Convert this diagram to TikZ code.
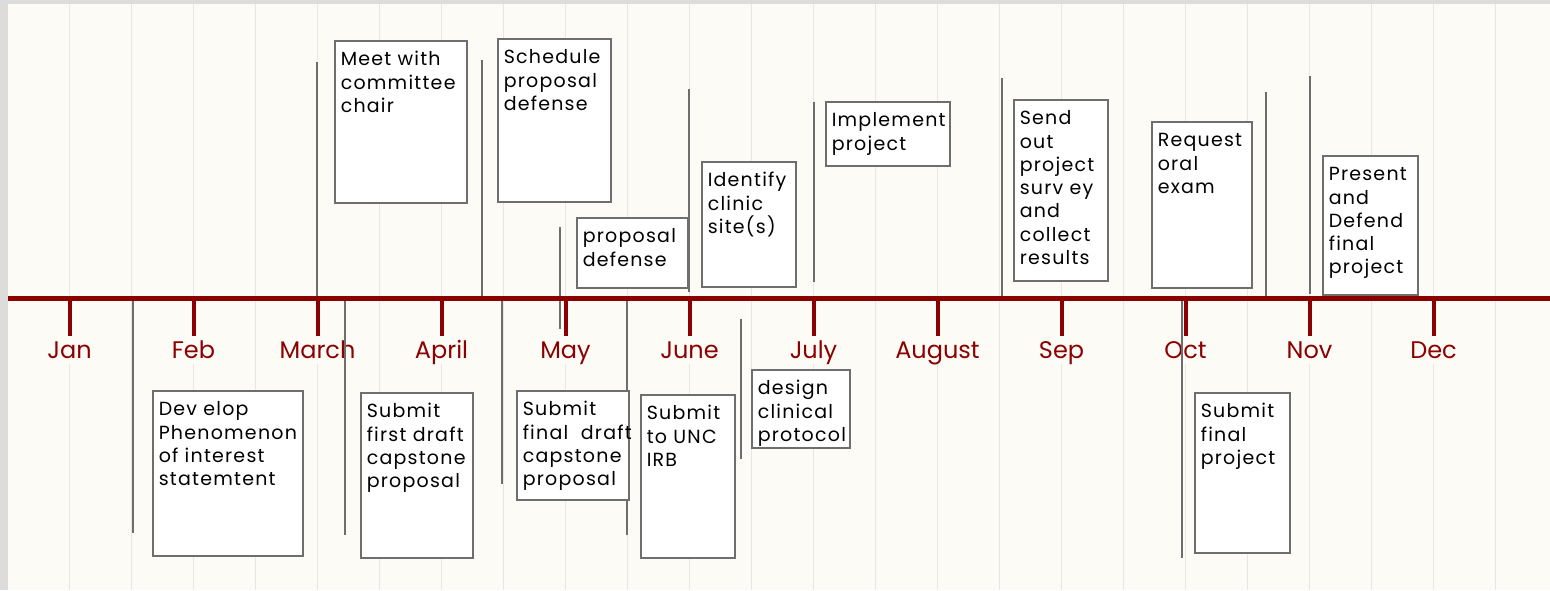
\documentclass[tikz,border=0pt]{standalone}
\usepackage{fontspec}
\setmainfont{Poppins}
\definecolor{axisred}{RGB}{139,0,0}
\definecolor{paper}{RGB}{253,251,245}
\definecolor{gridgray}{RGB}{232,230,227}
\definecolor{framegray}{RGB}{220,220,220}
\definecolor{stemgray}{RGB}{110,110,110}
\newcommand{\evtext}[3]{\parbox[t][#2][t]{#1}{\rule{0pt}{25pt}#3}}
\begin{document}
\begin{tikzpicture}[x=1pt,y=-1pt]
    \tikzstyle{evt}=[draw=stemgray,fill=white,line width=1.5pt,anchor=north west,inner xsep=6pt,inner ysep=0pt,
        font=\fontsize{19}{23.3}\selectfont\addfontfeature{LetterSpace=6.5}];
    \tikzstyle{stem}=[draw=stemgray,line width=1.6pt];
    \tikzstyle{month}=[fill=paper,text=axisred,font=\fontsize{24}{28}\selectfont,text height=22pt,text depth=6pt,inner sep=0pt];
    \tikzstyle{tick}=[draw=axisred,line width=4pt];

    \fill[framegray] (0,0) rectangle (1550,590);
    \fill[paper] (8,4) rectangle (1550,590);
    \useasboundingbox (0,0) rectangle (1550,590);
    \foreach \k in {0,...,23}
        \draw[gridgray,line width=1.6pt] (69.5+62*\k,4) -- (69.5+62*\k,590);

    \coordinate (ax0) at (8,298);
    \coordinate (ax1) at (1550,298);
    \foreach \m [count=\i from 0] in {Jan,Feb,March,April,May,June,July,August,Sep,Oct,Nov,Dec} {
        \node at (69.5+124*\i,350) (m\i) [month] {\m};
        \draw[tick] (m\i.north |- ax0) -- (m\i.north);
    }

    % stems
    \foreach \n/\x/\a/\b in {1/133/298/533, 2/317/62/298, 3/345/300/535, 4/482/60/298,
        5/502/300/484, 6/560/227/329, 7/627/300/535, 8/689/89/292, 9/741/319/459,
        10/814/102/282, 11/1002/78/297, 12/1182/301/558, 13/1266/92/299, 14/1310/76/294} {
        \coordinate (top\n) at (\x,\a);
        \coordinate (bot\n) at (\x,\b);
        \draw[stem] (top\n) -- (bot\n);
    }

    \draw[axisred,line width=5pt] (ax0) -- (ax1);

    % above the line
    \node at (334,40)   (e1)  [evt] {\evtext{120pt}{162pt}{Meet with\\committee\\chair}};
    \node at (497,38)   (e2)  [evt] {\evtext{101pt}{163pt}{Schedule\\proposal\\defense}};
    \node at (576,217)  (e3)  [evt] {\evtext{99pt}{70pt}{proposal\\defense}};
    \node at (701,161)  (e4)  [evt] {\evtext{82pt}{125pt}{Identify\\clinic\\site(s)}};
    \node at (825,101)  (e5)  [evt] {\evtext{112pt}{64pt}{Implement\\project}};
    \node at (1013,99)  (e6)  [evt] {\evtext{82pt}{181pt}{Send\\out\\project\\surv ey\\and\\collect\\results}};
    \node at (1151,121) (e7)  [evt] {\evtext{88pt}{166pt}{Request\\oral\\exam}};
    \node at (1322,155) (e8)  [evt] {\evtext{83pt}{139pt}{Present\\and\\Defend\\final\\project}};

    % below the line
    \node at (152,390)  (e9)  [evt] {\evtext{138pt}{165pt}{Dev elop\\Phenomenon\\of interest\\statemtent}};
    \node at (360,392)  (e10) [evt] {\evtext{100pt}{165pt}{Submit\\first draft\\capstone\\proposal}};
    \node at (516,390)  (e11) [evt] {\evtext{100pt}{109pt}{Submit\\\mbox{final\ \ draft}\\capstone\\proposal}};
    \node at (640,394)  (e12) [evt] {\evtext{82pt}{163pt}{Submit\\to UNC\\IRB}};
    \node at (751,369)  (e13) [evt] {\evtext{86pt}{78pt}{design\\clinical\\protocol}};
    \node at (1194,392) (e14) [evt] {\evtext{83pt}{160pt}{Submit\\final\\project}};
\end{tikzpicture}
\end{document}
